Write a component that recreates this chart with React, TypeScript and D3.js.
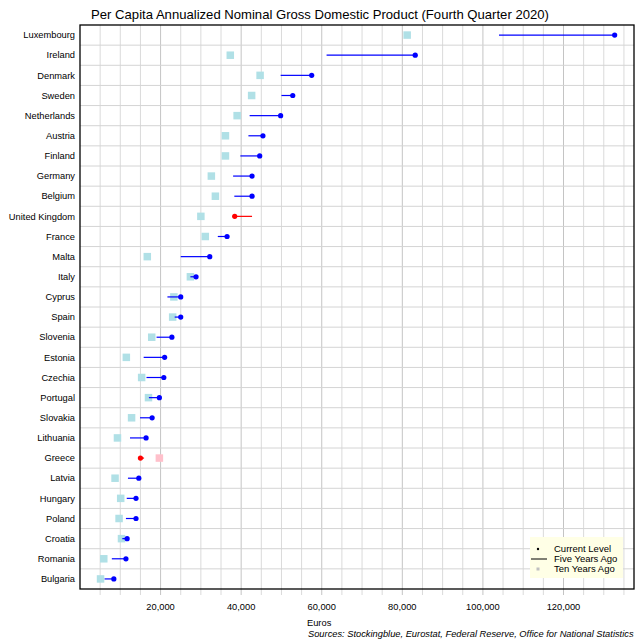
import { range, scaleBand, scaleLinear } from "d3";

const WIDTH = 640;
const HEIGHT = 640;
const PLOT = { left: 80, right: 634, top: 25, bottom: 589 };
const FONT = "'Liberation Sans', Arial, sans-serif";

const COUNTRIES = [
  "Luxembourg", "Ireland", "Denmark", "Sweden", "Netherlands", "Austria", "Finland",
  "Germany", "Belgium", "United Kingdom", "France", "Malta", "Italy", "Cyprus", "Spain",
  "Slovenia", "Estonia", "Czechia", "Portugal", "Slovakia", "Lithuania", "Greece",
  "Latvia", "Hungary", "Poland", "Croatia", "Romania", "Bulgaria",
];

const CURRENT = [
  132700, 83200, 57500, 52800, 49800, 45400, 44600, 42700, 42700, 38400, 36500, 32200,
  28800, 25000, 25000, 22800, 21000, 20800, 19700, 17900, 16400, 15000, 14600, 13900,
  13900, 11700, 11400, 8400,
];

const FIVE_YEARS_AGO = [
  104000, 61200, 49800, 50000, 42100, 41800, 39800, 38000, 38300, 42700, 34200, 25000,
  27400, 21700, 23500, 19000, 15800, 16500, 17100, 14900, 12400, 15900, 11900, 11600,
  11400, 10500, 7900, 6100,
];

const TEN_YEARS_AGO = [
  81200, 37300, 44700, 42600, 39000, 36100, 36100, 32600, 33600, 30000, 31100, 16700,
  27400, 23300, 23000, 17800, 11500, 15300, 17000, 12800, 9300, 19700, 8700, 10100,
  9700, 10300, 5900, 5100,
];

const X_TICKS = [20000, 40000, 60000, 80000, 100000, 120000];

export default function App() {
  const x = scaleLinear().domain([0, 137500]).range([PLOT.left, PLOT.right]);
  const y = scaleBand().domain(COUNTRIES).range([PLOT.top, PLOT.bottom]);
  const band = y.bandwidth();
  const gridValues = range(5000, 137500, 5000);
  const fmt = (v: number) => v.toLocaleString("en-US");

  return (
    <div style={{ position: "absolute", left: 0, top: 0 }}>
      <svg width={WIDTH} height={HEIGHT} viewBox={`0 0 ${WIDTH} ${HEIGHT}`} fontFamily={FONT}>
        <rect width={WIDTH} height={HEIGHT} fill="#ffffff" />
        <text x={320} y={19} textAnchor="middle" fontSize={13.1} fill="#000">
          Per Capita Annualized Nominal Gross Domestic Product (Fourth Quarter 2020)
        </text>

        {/* grid */}
        {gridValues.map((v) => (
          <line
            key={`gx${v}`}
            x1={x(v)}
            x2={x(v)}
            y1={PLOT.top}
            y2={PLOT.bottom + 6}
            stroke={v % 20000 === 0 ? "#c4c4c4" : "#dadada"}
            strokeWidth={1}
          />
        ))}
        {COUNTRIES.slice(1).map((c) => (
          <line
            key={`gy${c}`}
            x1={PLOT.left}
            x2={PLOT.right}
            y1={y(c)}
            y2={y(c)}
            stroke="#d4d4d4"
            strokeWidth={1}
          />
        ))}

        {/* marks */}
        {COUNTRIES.map((c, i) => {
          const cy = (y(c) ?? 0) + band / 2;
          const down = CURRENT[i] < FIVE_YEARS_AGO[i];
          const color = down ? "#ff0000" : "#0000ff";
          const squareColor = TEN_YEARS_AGO[i] > CURRENT[i] ? "#ffc0cb" : "#b0e0e6";
          return (
            <g key={c}>
              <rect
                x={x(TEN_YEARS_AGO[i]) - 3.75}
                y={cy - 3.75}
                width={7.5}
                height={7.5}
                fill={squareColor}
              />
              <line
                x1={x(FIVE_YEARS_AGO[i])}
                x2={x(CURRENT[i])}
                y1={cy}
                y2={cy}
                stroke={color}
                strokeWidth={1.2}
              />
              <circle cx={x(CURRENT[i])} cy={cy} r={2.6} fill={color} />
              <text
                x={PLOT.left - 5}
                y={cy}
                dy="0.35em"
                textAnchor="end"
                fontSize={9.3}
                fill="#000"
              >
                {c}
              </text>
            </g>
          );
        })}

        {/* frame */}
        <rect
          x={PLOT.left}
          y={PLOT.top}
          width={PLOT.right - PLOT.left}
          height={PLOT.bottom - PLOT.top}
          fill="none"
          stroke="#000"
          strokeWidth={1.3}
        />

        {X_TICKS.map((v) => (
          <text key={`t${v}`} x={x(v)} y={610} textAnchor="middle" fontSize={9.3} fill="#000">
            {fmt(v)}
          </text>
        ))}
        <text x={307} y={626} fontSize={9.3} fill="#000">
          Euros
        </text>
        <text x={308} y={637} fontSize={9.3} fontStyle="italic" fill="#000">
          Sources: Stockingblue, Eurostat, Federal Reserve, Office for National Statistics
        </text>

        {/* legend */}
        <g>
          <rect x={530} y={537} width={93} height={41} fill="#ffffe6" />
          <circle cx={538} cy={549} r={1.2} fill="#000" />
          <text x={554} y={549} dy="0.35em" fontSize={9.5} fill="#000">
            Current Level
          </text>
          <line x1={531} x2={547} y1={559} y2={559} stroke="#000" strokeWidth={1} />
          <text x={554} y={559} dy="0.35em" fontSize={9.5} fill="#000">
            Five Years Ago
          </text>
          <rect x={536.5} y={567.5} width={3} height={3} fill="#c0c0c0" />
          <text x={554} y={569} dy="0.35em" fontSize={9.5} fill="#000">
            Ten Years Ago
          </text>
        </g>
      </svg>
    </div>
  );
}
